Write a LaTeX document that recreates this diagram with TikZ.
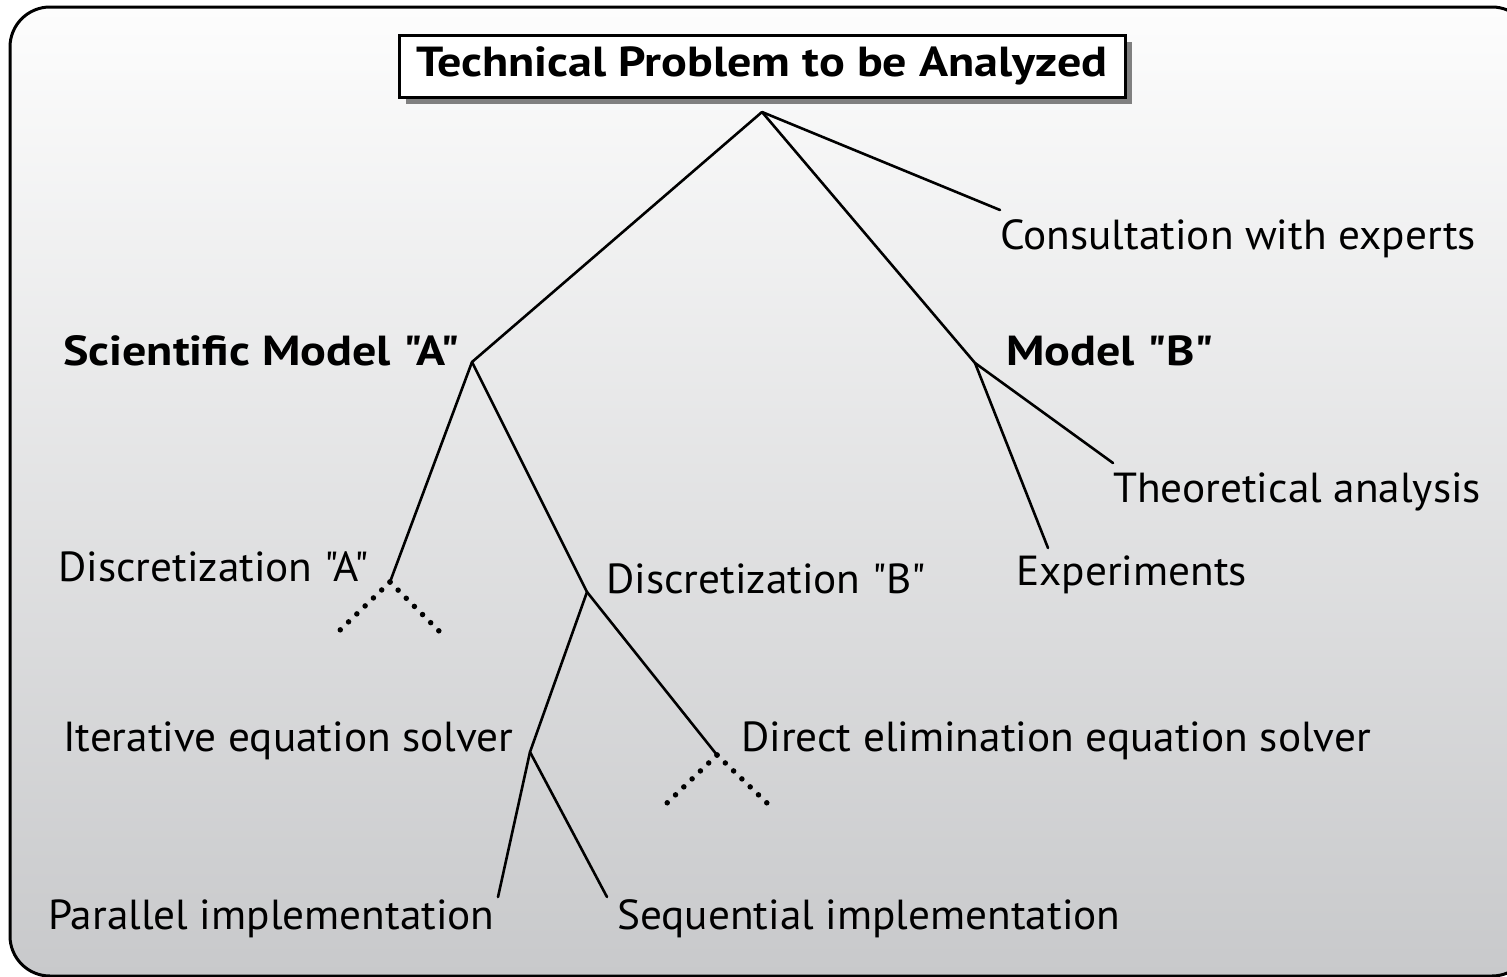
\documentclass[tikz,border=0pt]{standalone}
\usepackage{fontspec}
\setmainfont{PT Sans}
\newfontfamily\regf[FakeStretch=1.03]{PT Sans}
\newfontfamily\boldf[FakeStretch=1.145]{PT Sans Bold}
\newcommand{\qq}{{\char34}}
\usetikzlibrary{shadows}
\definecolor{bgtop}{HTML}{FDFDFD}
\definecolor{bgbot}{HTML}{C8C9CB}
\definecolor{shadowgray}{HTML}{808080}
\tikzset{
  lbl/.style={anchor=west, inner sep=0pt, font=\regf\fontsize{42}{48}\selectfont},
  blbl/.style={lbl, font=\boldf\fontsize{42}{48}\selectfont},
  branch/.style={line width=2.6pt, line cap=round},
  dotbranch/.style={line width=5.5pt, line cap=round, dash pattern=on 0pt off 11.5pt},
  titlebox/.style={draw, line width=3pt, fill=white, minimum width=726pt, minimum height=62pt,
    inner sep=0pt, font=\boldf\fontsize{42}{48}\selectfont,
    drop shadow={shadow xshift=7pt, shadow yshift=-7pt, fill=shadowgray, opacity=1}}
}
\begin{document}
\begin{tikzpicture}[x=1pt,y=-1pt]
\useasboundingbox (0,0) rectangle (1507,977);
\begin{scope}
\clip (0,0) rectangle (1507,977);
\shade[top color=bgtop, bottom color=bgbot, draw=black, line width=3pt, rounded corners=40pt]
  (10,7) rectangle (1532,976);
\end{scope}

\node[titlebox] (title) at (762,66) {Technical Problem to be Analyzed};

% junction coordinates
\coordinate (root) at (762,112);
\coordinate (jA) at (472,362);
\coordinate (jB) at (975,363);
\coordinate (jC) at (1000,210);
\coordinate (jDA) at (390,582);
\coordinate (jDB) at (587,592);
\coordinate (jIt) at (530,752);
\coordinate (jDir) at (717,755);
\coordinate (jPar) at (498,897);
\coordinate (jSeq) at (607,897);
\coordinate (jExp) at (1048,548);
\coordinate (jTh) at (1113,463);
\coordinate (dA1) at (338,632);
\coordinate (dA2) at (440,632);
\coordinate (dD1) at (667,803);
\coordinate (dD2) at (767,803);

% labels
\node[blbl] (modelA) at (63,351) {Scientific Model \qq A\qq};
\node[blbl] (modelB) at (1006,351) {Model \qq B\qq};
\node[lbl] (consult) at (1000,239) {Consultation with experts};
\node[lbl] (theory) at (1113,492) {Theoretical analysis};
\node[lbl] (exper) at (1016,575) {Experiments};
\node[lbl] (discA) at (58,567) {Discretization \qq A\qq};
\node[lbl] (discB) at (606,579) {Discretization \qq B\qq};
\node[lbl] (iter) at (63,741) {Iterative equation solver};
\node[lbl] (direct) at (741,741) {Direct elimination equation solver};
\node[lbl] (par) at (48,919) {Parallel implementation};
\node[lbl] (seq) at (617,919) {Sequential implementation};

% connectors
\draw[branch] (root) -- (jA);
\draw[branch] (root) -- (jB);
\draw[branch] (root) -- (jC);
\draw[branch] (jA) -- (jDA);
\draw[branch] (jA) -- (jDB);
\draw[branch] (jDB) -- (jIt);
\draw[branch] (jDB) -- (jDir);
\draw[branch] (jIt) -- (jPar);
\draw[branch] (jIt) -- (jSeq);
\draw[branch] (jB) -- (jExp);
\draw[branch] (jB) -- (jTh);
\draw[dotbranch] (jDA) -- (dA1);
\draw[dotbranch] (jDA) -- (dA2);
\draw[dotbranch] (jDir) -- (dD1);
\draw[dotbranch] (jDir) -- (dD2);
\end{tikzpicture}
\end{document}
